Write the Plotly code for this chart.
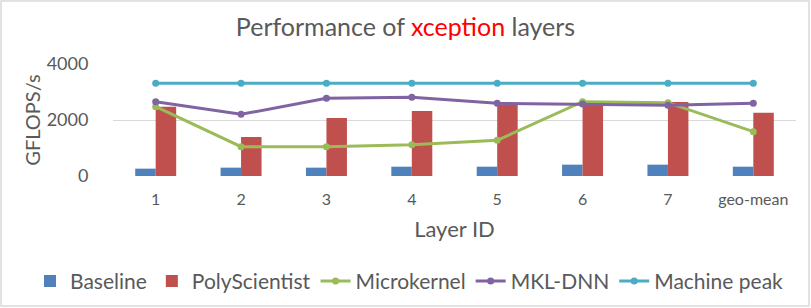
import plotly.graph_objects as go

categories = ["1", "2", "3", "4", "5", "6", "7", "geo-mean"]
baseline = [262, 298, 298, 333, 333, 405, 405, 333]
polyscientist = [2470, 1393, 2071, 2321, 2560, 2640, 2643, 2262]
microkernel = [2476, 1048, 1048, 1119, 1274, 2655, 2619, 1583]
mkl_dnn = [2654, 2202, 2774, 2810, 2595, 2571, 2524, 2595]
machine_peak = [3310, 3310, 3310, 3310, 3310, 3310, 3310, 3310]

text_color = "#595959"
font_family = "Lato, 'Open Sans', sans-serif"
clear = "rgba(0,0,0,0)"

fig = go.Figure()
fig.add_trace(go.Bar(x=categories, y=baseline, name="Baseline",
                     marker=dict(color="#4F81BD", line=dict(width=0))))
fig.add_trace(go.Bar(x=categories, y=polyscientist, name="PolyScientist",
                     marker=dict(color="#C0504D", line=dict(width=0))))
for name, vals, col in [("Microkernel", microkernel, "#9BBB59"),
                        ("MKL-DNN", mkl_dnn, "#8064A2"),
                        ("Machine peak", machine_peak, "#4BACC6")]:
    fig.add_trace(go.Scatter(x=categories, y=vals, name=name, mode="lines+markers",
                             line=dict(color=col, width=3),
                             marker=dict(color=col, size=7)))

fig.update_layout(
    width=811, height=308,
    margin=dict(l=113, r=15, t=64, b=132, autoexpand=False),
    paper_bgcolor="white", plot_bgcolor="white",
    font=dict(family=font_family, color=text_color),
    title=dict(text="Performance of <span style='color:#FF0000'>xception</span> layers",
               x=0.5, xanchor="center", y=1 - 27 / 308, yanchor="middle",
               font=dict(size=25, color=text_color, family=font_family)),
    barmode="group", bargap=0.52, bargroupgap=0,
    showlegend=True,
    legend=dict(orientation="h", x=(30 - 113) / 683, xanchor="left", y=-0.94, yanchor="middle",
                font=dict(size=21, color=text_color), itemwidth=30,
                traceorder="normal", bgcolor=clear),
    xaxis=dict(type="category", showgrid=False, zeroline=False, showline=False,
               ticks="outside", ticklen=9, tickcolor=clear,
               tickfont=dict(size=16, color=text_color),
               title=dict(text="Layer ID", font=dict(size=22, color=text_color), standoff=14)),
    yaxis=dict(range=[0, 4000], tickvals=[0, 2000, 4000], showgrid=True,
               gridcolor="#D9D9D9", gridwidth=1, zeroline=False, showline=False,
               tickfont=dict(size=18, color=text_color),
               ticks="outside", ticklen=20, tickcolor=clear,
               title=dict(text="GFLOPS/s", font=dict(size=20, color=text_color), standoff=0)),
    shapes=[dict(type="rect", xref="paper", yref="paper",
                 x0=(1 - 113) / 683, x1=(809 - 113) / 683,
                 y0=(176 - 306) / 112, y1=(176 - 1) / 112,
                 line=dict(color="#D9D9D9", width=1.5), fillcolor=clear,
                 layer="below")],
)

fig.write_html("out.html", config={"displayModeBar": False},
               post_script="document.body.style.margin='0';")
